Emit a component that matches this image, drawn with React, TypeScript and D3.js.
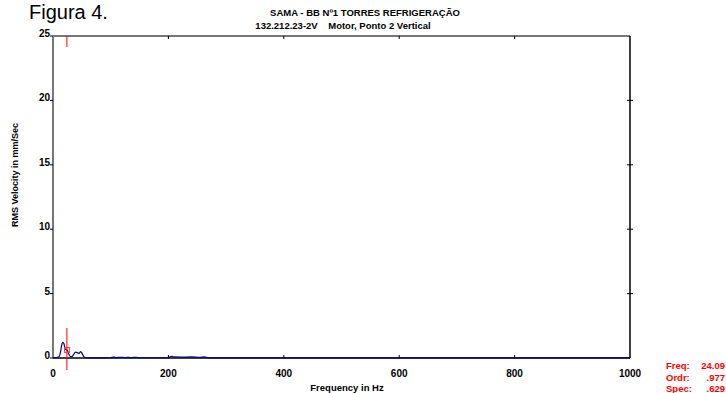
import React from "react";
import * as d3 from "d3";

// Spectrum samples: frequency (Hz) and RMS velocity (mm/s)
const freqHz = [0, 5, 10, 13, 15, 17, 19, 21, 24.09, 27, 30, 33, 36, 39, 42, 45, 48, 51, 54, 58, 65, 100, 105, 110, 115, 125, 130, 135, 145, 150, 200, 203, 206, 210, 220, 240, 255, 262, 270, 1000];
const rmsVel = [0.02, 0.03, 0.08, 0.45, 1.0, 1.22, 1.1, 0.7, 0.63, 0.35, 0.12, 0.1, 0.3, 0.45, 0.42, 0.35, 0.5, 0.3, 0.08, 0.02, 0.01, 0.02, 0.07, 0.03, 0.06, 0.04, 0.06, 0.03, 0.06, 0.02, 0.02, 0.1, 0.12, 0.08, 0.07, 0.08, 0.05, 0.08, 0.01, 0.01];

const xTicks = [0, 200, 400, 600, 800, 1000];
const yTicks = [0, 5, 10, 15, 20, 25];

const cursorFreq = 24.09;
const cursorOrder = ".977";
const cursorSpec = 0.629;

const titleLine1 = "SAMA - BB Nº1 TORRES REFRIGERAÇÃO";
const titleLine2 = "132.212.23-2V    Motor, Ponto 2 Vertical";

const W = 726;
const H = 393;
const plot = { left: 53, right: 630, top: 36, bottom: 358 };
const font = "'Liberation Sans', Arial, sans-serif";

export default function App() {
  const x = d3.scaleLinear().domain([0, 1000]).range([plot.left, plot.right]);
  const y = d3.scaleLinear().domain([0, 25]).range([plot.bottom, plot.top]);

  const pts: [number, number][] = freqHz.map((f, i) => [f, rmsVel[i]]);
  const line = d3
    .line<[number, number]>()
    .x((d) => x(d[0]))
    .y((d) => y(d[1]))
    .curve(d3.curveMonotoneX);

  const cx = x(cursorFreq);
  const cy = y(cursorSpec);

  return (
    <svg
      width={W}
      height={H}
      style={{ position: "absolute", left: 0, top: 0, background: "#fff" }}
      fontFamily={font}
    >
      <text x={29} y={19} fontSize={20} fill="#000">
        Figura 4.
      </text>

      <text x={365} y={16} fontSize={9.5} fontWeight="bold" textAnchor="middle">
        {titleLine1}
      </text>
      <text x={343} y={29} fontSize={9.5} fontWeight="bold" textAnchor="middle" style={{ whiteSpace: "pre" }}>
        {titleLine2}
      </text>

      {/* frame */}
      <line x1={plot.left} x2={plot.right} y1={plot.top} y2={plot.top} stroke="#777" strokeWidth={2} />
      <line x1={plot.left} x2={plot.left} y1={plot.top} y2={plot.bottom} stroke="#777" strokeWidth={2} />
      <line x1={plot.right} x2={plot.right} y1={plot.top} y2={plot.bottom} stroke="#000" strokeWidth={1.5} />
      <line x1={plot.left} x2={plot.right} y1={plot.bottom} y2={plot.bottom} stroke="#000" strokeWidth={1.5} />

      {/* y ticks */}
      {yTicks.map((t) => (
        <g key={"y" + t}>
          <line x1={plot.left - 3} x2={plot.left} y1={y(t)} y2={y(t)} stroke="#000" strokeWidth={1} />
          {t > 0 && t < 25 && (
            <line x1={plot.right - 3} x2={plot.right + 3} y1={y(t)} y2={y(t)} stroke="#000" strokeWidth={1} />
          )}
          <text x={plot.left - 3} y={y(t) + 1} fontSize={10} fontWeight="bold" textAnchor="end">
            {t}
          </text>
        </g>
      ))}

      {/* x ticks */}
      {xTicks.map((t) => (
        <g key={"x" + t}>
          {t > 0 && t < 1000 && (
            <>
              <line x1={x(t)} x2={x(t)} y1={plot.top} y2={plot.top + 3} stroke="#000" strokeWidth={1} />
              <line x1={x(t)} x2={x(t)} y1={plot.bottom} y2={plot.bottom - 3} stroke="#000" strokeWidth={1} />
            </>
          )}
          <text x={x(t)} y={377} fontSize={10} fontWeight="bold" textAnchor="middle">
            {t}
          </text>
        </g>
      ))}

      <text x={347} y={391} fontSize={9.5} fontWeight="bold" textAnchor="middle">
        Frequency in Hz
      </text>
      <text
        transform="translate(18,175) rotate(-90)"
        fontSize={9}
        fontWeight="bold"
        textAnchor="middle"
      >
        RMS Velocity in mm/Sec
      </text>

      {/* spectrum */}
      <path d={line(pts) ?? ""} fill="none" stroke="#00008b" strokeWidth={1.2} />

      {/* cursor */}
      <line x1={cx} x2={cx} y1={plot.top} y2={plot.top + 11} stroke="#ff0000" strokeWidth={1} />
      <line x1={cx} x2={cx} y1={328} y2={370} stroke="#ff0000" strokeWidth={1} />
      <rect x={cx - 2.5} y={cy - 2.5} width={5} height={5} fill="none" stroke="#ff3333" strokeWidth={1} />

      {/* cursor readout */}
      <g fill="#ff0000" fontSize={9.5} fontWeight="bold">
        <text x={666} y={369}>Freq:</text>
        <text x={725} y={369} textAnchor="end">{cursorFreq.toFixed(2)}</text>
        <text x={666} y={381}>Ordr:</text>
        <text x={725} y={381} textAnchor="end">{cursorOrder}</text>
        <text x={666} y={392}>Spec:</text>
        <text x={725} y={392} textAnchor="end">{cursorSpec.toFixed(3).replace(/^0/, "")}</text>
      </g>
    </svg>
  );
}
